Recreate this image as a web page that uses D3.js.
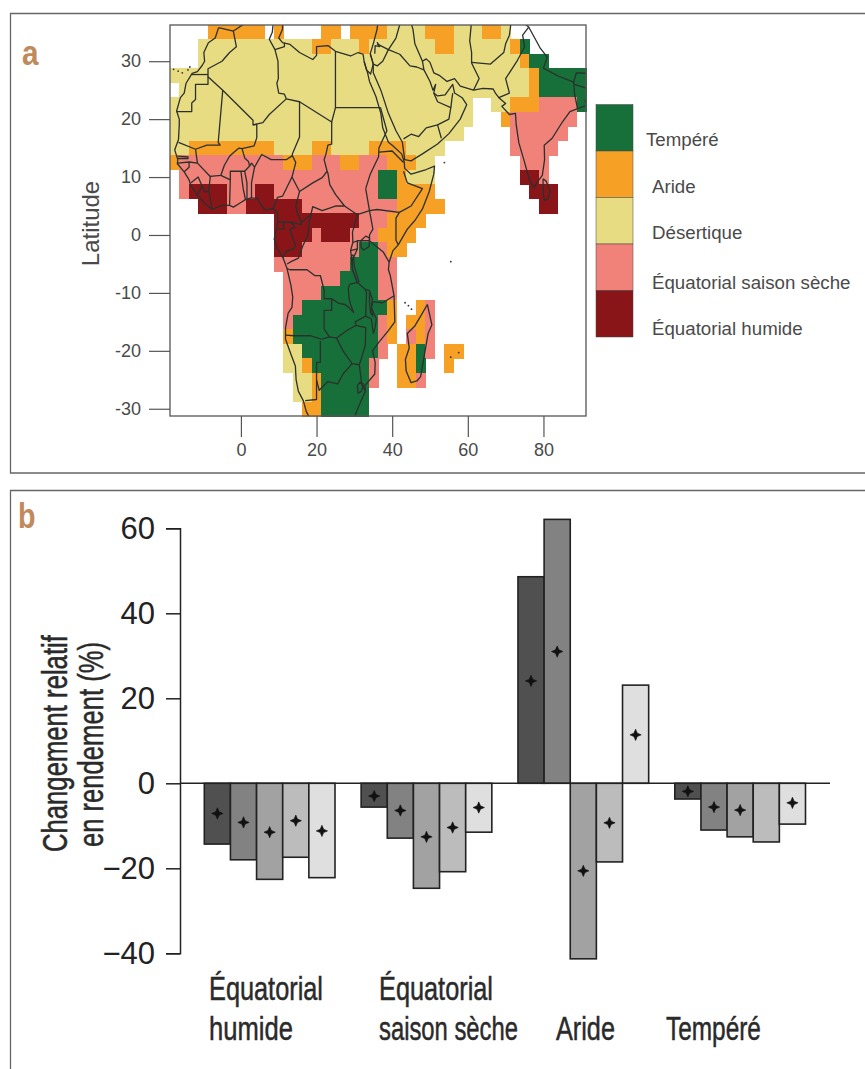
<!DOCTYPE html>
<html>
<head>
<meta charset="utf-8">
<script src="https://cdn.jsdelivr.net/npm/d3@7"></script>
<style>
    html, body { margin: 0; padding: 0; background: #fff; }
    svg { display: block; }
    text { font-family: "Liberation Sans", sans-serif; }
    .condensed { font-family: "Liberation Sans Narrow", "Liberation Sans", sans-serif; }
</style>
</head>
<body>
<svg id="chart" width="865" height="1069"></svg>
<script>
// panel a: climate grid, 2.5 degree cells, run length coded per row, north to south
const gridLats = d3.range(35, -32.5, -2.5);
const gridLons = d3.range(-17.5, 92.5, 2.5);
const climateRows = [
    "4.6A1.1A4.2A1.4A4D3A3D2A1D",
    "3.12D2A3D1A7D2A6D1A1T",
    "3.34D1A2T",
    "38D1A5T",
    "1.37D1A5T",
    "32D2.2D3A4S1T",
    "32D3.1A7S",
    "31D5.6S",
    "2D9A4D2A4D4A4D7.5S",
    "1A11S3A3S2A3S3A2D9.3S",
    "1.21S2T1A3D9.2H1S",
    "1.1S4H3S2H11S2T4A10.3H",
    "3.3H2S6H10S5A10.2H",
    "11.9H3S4A",
    "11.4H1S3H3S4A",
    "11.3H6S2T1S2A",
    "11.8S3T2S",
    "12.6S4T2S",
    "12.4S6T2S",
    "12.2S9T1A2.1A1S",
    "12.1S9T1S1A1.2A1S",
    "12.1A9T1S1A1.1S1A1S",
    "12.2D8T1S1.2A1T1S1.2A",
    "12.2D1A6T1S2.2A1T2.1A",
    "13.2D1A5T1S2.2A1S",
    "13.2D1A5T",
    "14.2A5T"
];
const climateCodes = ["T", "A", "D", "S", "H"];
const climateNames = ["Tempéré", "Aride", "Désertique", "Équatorial saison sèche", "Équatorial humide"];
const climateColors = ["#17703a", "#f6a126", "#e8dc82", "#f0827a", "#8a1519"];

const latTicks = [30, 20, 10, 0, -10, -20, -30];
const lonTicks = [0, 20, 40, 60, 80];

// coastlines, [lon, lat]
const coastlines = [
    [[-5.9,35.8],[-6.8,34],[-8.6,33.2],[-9.8,31.5],[-9.6,30],[-10.2,29.3],[-11.5,28.2],[-12.9,27.9],[-14.5,26.2],[-15,24.5],[-16,23.7],[-17,21.4],[-16.3,20],[-16.3,19],[-16.5,16.5],[-17.5,14.7],[-16.7,13],[-16.8,12.3],[-15,10.9],[-13.7,9.5],[-13.2,8.5],[-11.5,6.9],[-9.5,5.4],[-7.6,4.4],[-5,5.1],[-3,5.1],[-2,4.8],[0,5.6],[1.2,6.1],[2.7,6.4],[4.4,6.3],[5.5,5],[6.5,4.3],[8.5,4.6],[9.6,3.9],[9.8,2.3],[9.4,1],[8.8,-0.7],[9.5,-2.2],[11.1,-3.9],[12.2,-5.8],[13.2,-8.6],[13.7,-10.7],[13.5,-12.5],[12.5,-13.5],[11.8,-16],[11.8,-18],[13.4,-20.9],[14.4,-22.6],[14.6,-25],[15.2,-27],[16.5,-28.6],[17.3,-30.5],[18.1,-31.5]],
    [[30,-31.5],[31,-29.8],[32.9,-27],[32.8,-26],[35.4,-24],[35.5,-22],[34.8,-20],[36.5,-18.5],[39,-16.5],[40.7,-15],[40.5,-10.5],[39.5,-7],[39,-6],[39.2,-4.7],[40.2,-2.7],[41.6,-1.7],[44,1],[46,2.5],[48,4.5],[49.8,7.5],[51,10.5],[51.2,11.9],[49,11.3],[45,10.5],[43.3,11.5],[43.2,12.6],[42.5,14],[40,15.5],[39,16],[37.5,18.5],[37,21],[35.7,23.9],[34,26.5],[33.5,28],[32.6,29.9],[32.3,31.2],[31,31.5],[29,30.9],[25,31.7],[23,32.7],[20,32.5],[20,31],[19,30.3],[15.5,31.5],[13,32.9],[11,33.2],[10,34],[11,35.5],[11,37]],
    [[-5.9,35.8],[-2,35.2],[1,36.5]],
    [[32.6,29.9],[33.2,28.5],[34.3,27.8],[35,29.5],[34.2,31.3],[35,33],[36,35.5],[36.3,37]],
    [[35,29.5],[35,28],[37,25],[39,21],[41,18],[42.7,16],[43.3,13],[45,12.8],[48,14],[52,15.7],[55,17.5],[58,20],[59.7,22.5],[58.5,23.7],[56.5,24.5],[56,26],[54,24.2],[52,24],[51,24.5],[51.5,26],[50.8,25],[50,26.5],[48.4,28.5],[48,30],[49,30.4],[50,29.8],[51,28],[52.6,27.5],[54.5,26.5],[56.5,27],[58,25.7],[61.5,25],[64,25.3],[66.7,25.2],[67.3,24.5],[68.2,23.7],[70,22.7],[69,22.2],[71,20.8],[72.6,21],[72.8,19],[73.5,15.9],[74.9,12.8],[76.3,9.5],[77.5,8.1],[78.2,9],[79.7,10.3],[80.3,13],[80.2,15.5],[82.3,16.7],[85,19.5],[87,21.3],[89,21.8],[92,22.5]],
    // Sri Lanka
    [[79.9,9.7],[80.7,9.3],[81.8,7.5],[81.2,6.2],[80.2,6],[79.9,7.5],[79.9,9.7]],
    // Madagascar
    [[49.3,-12],[50.5,-15.5],[49.5,-17],[47.5,-24.5],[46.5,-25.2],[45,-25.5],[43.7,-23.5],[43.5,-21.5],[44.5,-19.5],[44,-17],[46,-15.7],[48,-13.5],[49.3,-12]],
    // lakes
    [[31.7,-1],[33,-0.2],[34,-0.5],[33.9,-2],[32.5,-2.6],[31.8,-2.2],[31.7,-1]],
    [[29.2,-3.5],[29.5,-6],[30.8,-8.3],[31.2,-8],[30,-5.5],[29.7,-3.5],[29.2,-3.5]],
    [[34,-9.6],[34.7,-11],[34.5,-13],[34.9,-14],[34.3,-13.5],[34,-11.5],[34,-9.6]],
    [[32.5,-25.8],[31.8,-27],[31,-27.3],[30.8,-26],[31.5,-25.4],[32.5,-25.8]]
];

// islands too small to outline, [lon, lat]
const islands = [
    [-17.8,28.6],[-16.6,28.3],[-15.5,28],[-14,28.5],[-13.5,29],
    [53.8,12.5],[55.5,-4.6],[43.4,-11.7],[44.3,-12.2],[45.1,-12.8],[55.5,-21.1],[57.6,-20.3]
];

// country borders, [lon, lat]
const borders = [
    [[-2,35.2],[-1.2,32.5],[-3,31.5],[-5,30],[-8.7,28.7],[-8.7,27.3],[-4.8,25],[1.2,21.1],[3.2,19.8],[3.2,19],[4.2,19.1],[4.2,16.8],[3.5,15.4],[0.3,14.9],[-0.5,15],[-2,14.2],[-3,13.6],[-4.4,12],[-5.3,10.3],[-8.1,10.1],[-8.5,7.6],[-7.6,4.4]],
    [[-13,27.7],[-8.7,27.7]],
    [[-8.7,27.3],[-8.7,26],[-12,26],[-12,23.4],[-13,22.8],[-13,21.3],[-17,21.3]],
    [[-4.8,25],[-6,16],[-5.5,15.5],[-9,15.5],[-12,14.8],[-16.5,16]],
    [[-12,14.8],[-11.5,12.4],[-8.1,10.1]],
    [[-16.7,12.4],[-13.7,12.6],[-13.7,11.7],[-15,10.9]],
    [[-13.7,12.6],[-11.5,12.4]],
    [[-16.8,13.6],[-14,13.5],[-14,13.2],[-16.8,13.2]],
    [[-13.2,9],[-11.3,10],[-10.3,8.5],[-11.5,6.9]],
    [[-8.5,7.6],[-9.5,7.4],[-10.3,8.5]],
    [[-3,5.1],[-2.8,9.5],[-2.8,11],[0,11],[1,11],[2.3,11.9],[2,12.7],[1,13.3],[0.3,14.9]],
    [[-5.3,10.3],[-2.8,9.5]],
    [[0,11],[0.6,8],[1.2,6.1]],
    [[1,11],[1.6,9],[1.6,6.2]],
    [[2.8,6.4],[2.8,9],[3.6,11.7],[2.8,12.4],[2.3,11.9]],
    [[3.6,11.7],[5.5,13.9],[8,13],[12,13],[13.6,13.7],[13.6,14],[15.5,16.9],[15.5,23],[12,23.5],[7.5,20.8],[5.8,19.4],[3.2,19]],
    [[12,23.5],[11.5,24.3],[10,24.5],[9.5,26.2],[9.9,27],[9.8,30],[9,32],[7.5,33.8],[8.3,35],[8.6,37]],
    [[9,32],[11.5,32.5],[11.5,33.2]],
    [[15.5,23],[24,19.5],[25,22],[25,31.7]],
    [[25,22],[36.9,22]],
    [[24,19.5],[24,15.7],[23,15.5],[22.5,14],[22,13],[22.8,11],[23,10.7],[23.5,8.7],[25,7],[27.4,5],[25,5],[21.5,4.2],[19,4.9],[18.5,3.5],[16,2.2],[15,3.6],[14.5,5],[15.5,7.5],[13.5,10],[14.5,12.5],[13.6,13.7]],
    [[22.8,11],[21.5,9.9],[19,9],[15.5,7.5]],
    [[8.5,4.6],[9.7,6.5],[11,6.7],[12.3,8.4],[13.5,10]],
    [[9.8,2.3],[11.3,2.2],[13.3,2.2],[16,1.8],[16,2.2]],
    [[9.8,1],[11.3,1],[11.3,2.2]],
    [[13.3,2.2],[14.3,1.3],[13,1],[14.4,-1.8],[14,-2.4],[12,-2.8],[11.1,-3.9]],
    [[12.2,-5],[13,-4.7],[15.2,-4],[16.3,-2],[17.7,0],[18,2],[18.6,3.5]],
    [[12.2,-5.8],[13,-6],[17.5,-6],[19.5,-7],[21,-7],[22,-9.5],[22,-11],[24,-11],[25.9,-11.8],[27.5,-12],[28.5,-12.5],[29.8,-13.4],[29,-12],[28.6,-11],[28.4,-9.2],[28.8,-8.5],[30.8,-8.2],[29.5,-6],[29.4,-4.5],[29,-2.7],[29.6,-1.3],[29.5,0.5],[30.8,3.5],[27.4,5]],
    [[30.8,3.5],[34,4.2],[36,4.4],[41.9,3.9],[41,2.9],[41,-0.9],[41.6,-1.7]],
    [[33,8],[34,4.2],[34.9,1],[34,0],[34,-1],[37.7,-3],[39.2,-4.7]],
    [[29.6,-1.3],[30.8,-1],[34,-1]],
    [[29,-2.7],[30.8,-2.4],[30.8,-1]],
    [[29.4,-4.5],[30.8,-2.4]],
    [[36.9,22],[38.6,18],[36.5,15],[36.4,13.5],[34.2,10.5],[33,8]],
    [[36.5,14.3],[40,14.5],[43,12.5]],
    [[41.9,3.9],[45,5],[48,8],[44,9],[43,11]],
    [[22,-11],[24,-11],[24,-13],[22,-13],[22,-16.2],[23.4,-17.6],[21.4,-18],[18.5,-17.4],[14,-17.4],[11.8,-17.3]],
    [[21,-18.3],[21,-22],[20,-22],[20,-28.4],[17,-28.6]],
    [[23.4,-17.6],[25.3,-17.8],[27,-20],[29.4,-22.2],[27,-24],[25.6,-25.7],[23,-25.3],[20.7,-26.8],[20,-25]],
    [[25.3,-17.8],[28,-16.5],[30.4,-15.6],[33,-16],[32.9,-19],[32,-21],[31.3,-22.4],[29.4,-22.2]],
    [[31.3,-22.4],[32,-25.9],[32.9,-26.9]],
    [[30.4,-15.6],[30.2,-15],[33,-14],[33.2,-10],[32.9,-9.4],[30.8,-8.2]],
    [[33,-14],[34.5,-14.5],[35,-17],[35.5,-16],[35.8,-14.5],[34.5,-12.5],[34.9,-11.5],[37.5,-11.7],[40.5,-10.5]],
    [[32.9,-9.4],[34,-9.6]],
    [[34.2,31.3],[35,29.5]],
    [[35,29.5],[36.1,29.2],[37.5,30],[39,32],[42,31.2],[44.7,29.2],[46.5,29],[48.4,28.5]],
    [[36,33],[39,32],[41,34],[42.3,37]],
    [[36,33.3],[36.7,32.5],[35.5,32.7],[35.4,31.3]],
    [[48,30],[46,33],[45.5,35.5],[44.8,37]],
    [[43,16.6],[45,17.4],[47,17],[49,18.5],[52,19],[53,16.7]],
    [[51,24.5],[52,23],[55.5,22],[55,20],[52,19]],
    [[56,24.5],[55.5,22]],
    [[61.5,25],[63,27],[61,29.7],[61,31.5],[60.5,33.5],[61,37]],
    [[61,29.8],[66,29.5],[69.5,31.5],[70,33],[71,34.5],[71.5,37]],
    [[68.2,23.7],[71,24.5],[70,27],[73,30],[75,32.5],[74.5,34.5],[76.1,35.9]],
    [[74,37],[76.1,35.9],[79.2,32.2],[81,30.7],[80,28.8],[84,27.4],[88,26.4],[88.7,28],[92,27.9]],
    [[88,26.4],[88.2,24.5],[89,21.8]],
    [[88.2,26],[92,25.2]],
    [[92,24],[91,23.2],[91.3,22.6]]
];

// panel b: relative yield change, five values per climate
const groupNames = ["Équatorial humide", "Équatorial saison sèche", "Aride", "Tempéré"];
const barNames = [0, 1, 2, 3, 4];
const barColors = ["#505050", "#828282", "#a2a2a2", "#bcbcbc", "#dfdfdf"];
const equatorialHumide = [-14.3, -18, -22.6, -17.4, -22.2];
const equatorialSaison = [-5.6, -12.9, -24.7, -20.8, -11.5];
const aride = [48.6, 62.1, -41.3, -18.5, 23.1];
const tempere = [-3.7, -11, -12.6, -13.8, -9.6];
const barValues = [equatorialHumide, equatorialSaison, aride, tempere];
const equatorialHumideMean = [-7.1, -9.2, -11.5, -8.8, -11.2];
const equatorialSaisonMean = [-3, -6.4, -12.6, -10.4, -5.7];
const arideMean = [24.1, 31, -20.6, -9.3, 11.4];
const tempereMean = [-1.9, -5.6, -6.3, null, -4.6];
const meanValues = [equatorialHumideMean, equatorialSaisonMean, arideMean, tempereMean];
const yieldTicks = [60, 40, 20, 0, -20, -40];

const svg = d3.select("#chart");
const inkGray = "#4a4a4a";
const panelLabel = "#c08b5c";

// stretch text to a given width, keeping it a plain scaled label
function fitText(sel, place, length) {
    const natural = sel.node().getComputedTextLength();
    sel.attr("transform", place + " scale(" + (length / natural) + ",1)");
    return sel;
}

// panel frames
svg.append("path")
    .attr("d", "M866,13.5H10.5V473H866")
    .attr("fill", "none").attr("stroke", "#666").attr("stroke-width", 1.3);
svg.append("path")
    .attr("d", "M866,490.5H10.5V1070")
    .attr("fill", "none").attr("stroke", "#666").attr("stroke-width", 1.3);
fitText(svg.append("text").attr("class", "condensed")
    .attr("font-size", 36).attr("font-weight", "bold").attr("fill", panelLabel).text("a"),
    "translate(22,65)", 16.5);
fitText(svg.append("text").attr("class", "condensed")
    .attr("font-size", 36).attr("font-weight", "bold").attr("fill", panelLabel).text("b"),
    "translate(18,528)", 17.5);

function drawMap() {
    const x = d3.scaleLinear().domain([-18.75, 91.25]).range([170, 586]);
    const y = d3.scaleLinear().domain([36.25, -31.25]).range([25, 416]);
    const color = d3.scaleOrdinal().domain(climateCodes).range(climateColors);
    const g = svg.append("g");

    svg.append("clipPath").attr("id", "map-clip")
        .append("rect")
        .attr("x", x.range()[0]).attr("y", y.range()[0])
        .attr("width", x.range()[1] - x.range()[0])
        .attr("height", y.range()[1] - y.range()[0]);

    const cells = [];
    climateRows.forEach((row, r) => {
        let col = 0;
        for (const m of row.matchAll(/(\d+)([.A-Z])/g)) {
            for (let n = 0; n < +m[1]; n++, col++) {
                if (m[2] !== ".") cells.push({lat: gridLats[r], lon: gridLons[col], code: m[2]});
            }
        }
    });

    g.append("g").attr("shape-rendering", "crispEdges")
        .selectAll("rect").data(cells).join("rect")
        .attr("x", d => x(d.lon - 1.25))
        .attr("y", d => y(d.lat + 1.25))
        .attr("width", x(2.5) - x(0) + 0.5)
        .attr("height", y(0) - y(2.5) + 0.5)
        .attr("fill", d => color(d.code));

    const line = d3.line().x(d => x(d[0])).y(d => y(d[1]));
    const outlines = g.append("g").attr("clip-path", "url(#map-clip)")
        .attr("fill", "none").attr("stroke", "#2b302d").attr("stroke-width", 1.3)
        .attr("stroke-linejoin", "round");
    outlines.selectAll(".border").data(borders).join("path")
        .attr("class", "border").attr("d", line);
    outlines.selectAll(".coast").data(coastlines).join("path")
        .attr("class", "coast").attr("d", line);
    g.append("g").attr("clip-path", "url(#map-clip)")
        .selectAll("circle").data(islands).join("circle")
        .attr("cx", d => x(d[0])).attr("cy", d => y(d[1])).attr("r", 0.9)
        .attr("fill", "#333");

    g.append("rect")
        .attr("x", x.range()[0]).attr("y", y.range()[0])
        .attr("width", x.range()[1] - x.range()[0])
        .attr("height", y.range()[1] - y.range()[0])
        .attr("fill", "none").attr("stroke", "#555").attr("stroke-width", 1.3);

    const axisX = g.append("g").attr("transform", "translate(0,416)")
        .call(d3.axisBottom(x).tickValues(lonTicks).tickSize(21).tickPadding(6).tickFormat(d3.format("d")));
    const axisY = g.append("g").attr("transform", "translate(170,0)")
        .call(d3.axisLeft(y).tickValues(latTicks).tickSize(21).tickPadding(8).tickFormat(d => String(d)));
    [axisX, axisY].forEach(a => {
        a.select(".domain").remove();
        a.selectAll("line").attr("stroke", "#555").attr("stroke-width", 1.2);
        a.selectAll("text").attr("font-size", 18).attr("fill", inkGray)
            .attr("font-family", "Liberation Sans");
    });

    svg.append("text")
        .attr("transform", "translate(99,223.5) rotate(-90)")
        .attr("text-anchor", "middle")
        .attr("font-size", 24).attr("fill", inkGray).text("Latitude");

    // legend
    const legendY = d3.scaleBand().domain(climateNames).range([104.5, 337]);
    svg.append("g").selectAll("rect").data(climateNames).join("rect")
        .attr("x", 596).attr("y", d => legendY(d))
        .attr("width", 37).attr("height", legendY.bandwidth())
        .attr("fill", (d, i) => climateColors[i])
        .attr("stroke", "#444").attr("stroke-width", 0.5);
    svg.append("g").selectAll("text").data(climateNames).join("text")
        .attr("x", (d, i) => i === 0 ? 646 : 652)
        .attr("y", (d, i) => legendY(d) + legendY.bandwidth() * 0.5 + (i < 3 ? 18.5 : 21.5))
        .attr("font-size", 18.7).attr("fill", inkGray)
        .text(d => d);
}

function drawBars() {
    const x0 = d3.scaleBand().domain(groupNames).range([204.3, 805.5]).paddingInner(1 / 6);
    const x1 = d3.scaleBand().domain(barNames).range([0, x0.bandwidth()]);
    const y = d3.scaleLinear().domain([60, -40]).range([528.3, 953.3]);

    const groups = svg.append("g").selectAll("g").data(groupNames).join("g")
        .attr("transform", d => "translate(" + x0(d) + ",0)");

    groups.selectAll("rect").data((d, i) => barValues[i]).join("rect")
        .attr("x", (d, i) => x1(i))
        .attr("y", d => y(Math.max(0, d)))
        .attr("width", x1.bandwidth())
        .attr("height", d => Math.abs(y(d) - y(0)))
        .attr("fill", (d, i) => barColors[i])
        .attr("stroke", "#222").attr("stroke-width", 1.6);

    // four pointed star marking the mean
    const star = {
        draw(ctx, size) {
            const r = Math.sqrt(size), w = r * 0.3;
            ctx.moveTo(0, -r);
            ctx.lineTo(w, -w);
            ctx.lineTo(r, 0);
            ctx.lineTo(w, w);
            ctx.lineTo(0, r);
            ctx.lineTo(-w, w);
            ctx.lineTo(-r, 0);
            ctx.lineTo(-w, -w);
            ctx.closePath();
        }
    };
    groups.selectAll("path")
        .data((d, i) => meanValues[i].map((v, b) => ({v, b})).filter(m => m.v !== null))
        .join("path")
        .attr("d", d3.symbol().type(star).size(32))
        .attr("transform", d => "translate(" + (x1(d.b) + x1.bandwidth() / 2) + "," + y(d.v) + ")")
        .attr("fill", "#111").attr("stroke", "#111").attr("stroke-width", 0.6);

    // zero line, runs past the last bar
    svg.append("line")
        .attr("x1", 180).attr("x2", 830)
        .attr("y1", y(0)).attr("y2", y(0))
        .attr("stroke", "#222").attr("stroke-width", 1.5);

    const axis = svg.append("g").attr("transform", "translate(180,0)")
        .call(d3.axisLeft(y).tickValues(yieldTicks).tickSize(14).tickPadding(11)
            .tickFormat(d => d < 0 ? "\u2212" + Math.abs(d) : d));
    axis.select(".domain").attr("stroke", "#222").attr("stroke-width", 1.5);
    axis.selectAll("line").attr("stroke", "#222").attr("stroke-width", 1.5);
    axis.selectAll("text").attr("font-size", 31).attr("fill", "#222")
        .attr("font-family", "Liberation Sans");

    // axis title and group labels, set in a tall narrow face
    const tall = (t, place, length, size) => fitText(svg.append("text")
        .attr("class", "condensed").attr("font-size", size).attr("fill", "#2a2a2a")
        .attr("stroke", "#2a2a2a").attr("stroke-width", 0.5)
        .text(t), place, length);

    tall("Changement relatif", "translate(67,852) rotate(-90)", 217, 36);
    tall("en rendement (%)", "translate(103,847) rotate(-90)", 205, 36);

    const groupLines = [["Équatorial", "humide"], ["Équatorial", "saison sèche"], ["Aride"], ["Tempéré"]];
    const groupLeft = [209, 379, 556, 666];
    const groupWidths = [[114, 84], [114, 139], [59], [95]];
    groupLines.forEach((lines, i) => {
        lines.forEach((t, j) => {
            const baseline = lines.length === 2 && j === 0 ? 1000 : 1040;
            tall(t, "translate(" + groupLeft[i] + "," + baseline + ")", groupWidths[i][j], 34);
        });
    });
}

drawMap();
drawBars();
</script>
</body>
</html>
